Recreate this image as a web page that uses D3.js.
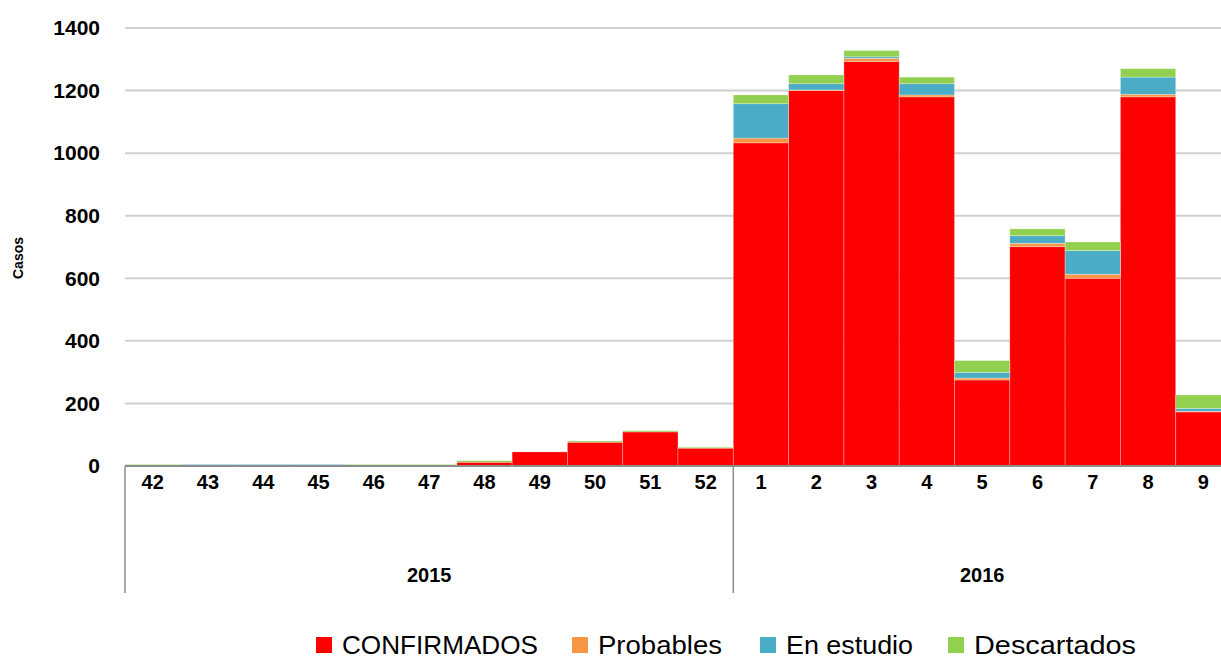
<!DOCTYPE html>
<html><head><meta charset="utf-8">
<script src="https://cdn.jsdelivr.net/npm/d3@7"></script>
<style>
body{margin:0;background:#fff;}
svg{display:block;}
text{font-family:"Liberation Sans Narrow","Liberation Sans",Arial,sans-serif;}
</style></head>
<body><svg id="c" width="1221" height="660"></svg>
<script>
const weeks = ["42","43","44","45","46","47","48","49","50","51","52","1","2","3","4","5","6","7","8","9"];
const years = [{label:"2015", start:"42", end:"52"},{label:"2016", start:"1", end:"9"}];
const confirmados = [0,0,0,0,0,0,12,45,76,109,57,1033,1200,1293,1180,275,701,600,1180,173];
const probables   = [0,0,0,0,0,0,0,0,0,0,0,15,2,10,6,6,11,13,8,2];
const enEstudio   = [0,5,5,5,0,0,0,0,0,0,0,110,20,5,36,18,24,76,55,9];
const descartados = [5,0,0,0,5,5,5,0,4,4,3,28,28,20,21,38,22,27,27,43];
const yTicks = [0,200,400,600,800,1000,1200,1400];
const seriesNames = ["CONFIRMADOS","Probables","En estudio","Descartados"];
const colors = ["#ff0000","#f79646","#4bacc6","#92d050"];

const svg = d3.select("#c");
const pL = 125, pR = 1231, pT = 28, pB = 466;
const x = d3.scaleBand().domain(weeks).range([pL,pR]).padding(0);
const y = d3.scaleLinear().domain([0,1400]).range([pB,pT]);

// gridlines
svg.append("g").selectAll("line").data(yTicks.filter(d=>d>0)).join("line")
  .attr("x1",pL).attr("x2",1221).attr("y1",d=>y(d)).attr("y2",d=>y(d))
  .attr("stroke","#d0d0d0").attr("stroke-width",2);

// y labels
svg.append("g").selectAll("text").data(yTicks).join("text")
  .attr("x",100).attr("y",d=>y(d)).attr("dy","0.35em").attr("text-anchor","end")
  .attr("font-size",21).attr("font-weight","bold").attr("fill","#000").text(d=>d);

svg.append("text").attr("transform","translate(23,"+258+") rotate(-90)")
  .attr("text-anchor","middle").attr("font-size",14).attr("font-weight","bold").text("Casos");

// stacked bars
const table = weeks.map((w,i)=>({week:w, c:confirmados[i], p:probables[i], e:enEstudio[i], d:descartados[i]}));
const stack = d3.stack().keys(["c","p","e","d"])(table);
svg.append("g").selectAll("g").data(stack).join("g").attr("fill",(d,i)=>colors[i])
  .selectAll("rect").data(d=>d).join("rect")
  .attr("x",d=>x(d.data.week)).attr("width",x.bandwidth())
  .attr("y",d=>y(d[1])).attr("height",d=>Math.max(0,y(d[0])-y(d[1])))
  .attr("stroke","#ffffff").attr("stroke-opacity",0.35).attr("stroke-width",0.8);

// x axis line
svg.append("line").attr("x1",pL).attr("x2",1221).attr("y1",pB).attr("y2",pB)
  .attr("stroke","#8c8c8c").attr("stroke-width",2);

// week labels
svg.append("g").selectAll("text").data(weeks).join("text")
  .attr("x",d=>x(d)+x.bandwidth()/2).attr("y",482).attr("dy","0.35em").attr("text-anchor","middle")
  .attr("font-size",20).attr("font-weight","bold").text(d=>d);

// year separators
const sepX = [x("42"), x("1")];
svg.append("g").selectAll("line").data(sepX).join("line")
  .attr("x1",d=>d).attr("x2",d=>d).attr("y1",pB).attr("y2",593)
  .attr("stroke","#8c8c8c").attr("stroke-width",1.5);
svg.append("g").selectAll("text").data(years).join("text")
  .attr("x",d=>(x(d.start)+x(d.end)+x.bandwidth())/2).attr("y",575).attr("dy","0.35em")
  .attr("text-anchor","middle").attr("font-size",20).attr("font-weight","bold").text(d=>d.label);

// legend
const legX = [316, 572, 760, 948];
const legW = [196, 124, 127, 162];
const lg = svg.append("g").selectAll("g").data(seriesNames).join("g")
  .attr("transform",(d,i)=>"translate("+legX[i]+",0)");
lg.append("rect").attr("x",0).attr("y",637).attr("width",16).attr("height",16).attr("fill",(d,i)=>colors[i]);
lg.append("text").attr("x",26).attr("y",654).attr("font-size",25).attr("fill","#000")
  .attr("textLength",(d,i)=>legW[i]).attr("lengthAdjust","spacingAndGlyphs").text(d=>d);
</script></body></html>
